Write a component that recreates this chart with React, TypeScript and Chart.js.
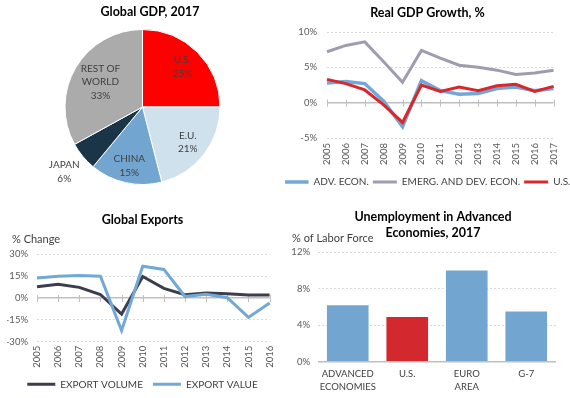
import React, { useEffect, useRef } from 'react';
import { Chart, registerables } from 'chart.js';
Chart.register(...registerables);

const FONT = 'Lato, "Open Sans", sans-serif';
Chart.defaults.font.family = FONT;

// ---------- Data ----------
const gdpShareLabels = ['U.S.', 'E.U.', 'CHINA', 'JAPAN', 'REST OF\nWORLD'];
const gdpShareValues = [25, 21, 15, 6, 33];

const growthYears = ['2005', '2006', '2007', '2008', '2009', '2010', '2011', '2012', '2013', '2014', '2015', '2016', '2017'];
const advEcon = [2.8, 3.0, 2.7, 0.2, -3.4, 3.1, 1.7, 1.2, 1.3, 2.0, 2.2, 1.7, 2.0];
const emergEcon = [7.2, 8.1, 8.6, 5.8, 2.9, 7.4, 6.3, 5.3, 5.0, 4.6, 4.0, 4.2, 4.6];
const usGrowth = [3.3, 2.7, 1.8, -0.3, -2.8, 2.5, 1.6, 2.2, 1.7, 2.4, 2.6, 1.6, 2.3];
const growthTicks = [-5, 0, 5, 10];

const exportYears = ['2005', '2006', '2007', '2008', '2009', '2010', '2011', '2012', '2013', '2014', '2015', '2016'];
const exportVolume = [7.8, 9.5, 7.3, 2.4, -11.0, 14.8, 6.6, 2.3, 3.4, 3.0, 2.1, 2.0];
const exportValue = [13.7, 14.9, 15.5, 15.0, -22.3, 21.8, 19.6, 1.0, 2.6, 0.2, -13.3, -3.4];
const exportTicks = [-30, -15, 0, 15, 30];

const unempCategories = [['ADVANCED', 'ECONOMIES'], 'U.S.', ['EURO', 'AREA'], 'G-7'];
const unempValues = [6.2, 4.9, 10.0, 5.5];
const unempTicks = [0, 4, 8, 12];

// ---------- Styles ----------
const RED = '#FF0000';
const LIGHTBLUE = '#D0E1EE';
const MIDBLUE = '#72A6D1';
const NAVY = '#1B3548';
const GREY = '#ABABAB';
const LINE_BLUE = '#72A8D5';
const LINE_GREY = '#9E9DAF';
const LINE_RED = '#DA272D';
const LINE_DARK = '#3C3D4F';
const BAR_RED = '#D2282E';
const TICK_COLOR = '#595959';
const TEXT_COLOR = '#404040';
const TICK_SIZE = 9.5;
const LEGEND_SIZE = 10;
const TITLE_FONT = { family: FONT, size: 12.5, weight: 'bold' as const };

const pieLabelPlugin = {
  id: 'pieLabels',
  afterDatasetsDraw(chart: any, _args: any, opts: any) {
    const meta = chart.getDatasetMeta(0);
    const ctx = chart.ctx;
    const labels = chart.data.labels as string[];
    const values = chart.data.datasets[0].data as number[];
    ctx.save();
    ctx.font = `${opts.size}px ${FONT}`;
    ctx.fillStyle = opts.color;
    ctx.textAlign = 'center';
    ctx.textBaseline = 'middle';
    meta.data.forEach((arc: any, i: number) => {
      const p = arc.getProps(['x', 'y', 'startAngle', 'endAngle', 'outerRadius'], true);
      const mid = (p.startAngle + p.endAngle) / 2;
      const r = p.outerRadius * opts.dist[i];
      const cx = p.x + Math.cos(mid) * r;
      const cy = p.y + Math.sin(mid) * r;
      const lines = [...labels[i].split('\n'), values[i] + '%'];
      const lh = opts.lineHeight;
      const y0 = cy - ((lines.length - 1) * lh) / 2;
      lines.forEach((t, k) => ctx.fillText(t, cx, y0 + k * lh));
    });
    ctx.restore();
  },
};

const zeroTickPlugin = {
  id: 'zeroTicks',
  beforeDatasetsDraw(chart: any, _args: any, opts: any) {
    const xs = chart.scales.x;
    const ys = chart.scales.y;
    const y0 = ys.getPixelForValue(0);
    const ctx = chart.ctx;
    ctx.save();
    ctx.strokeStyle = opts.color;
    ctx.lineWidth = 1;
    ctx.beginPath();
    for (let i = 0; i < xs.ticks.length; i++) {
      const px = Math.round(xs.getPixelForTick(i)) + 0.5;
      ctx.moveTo(px, y0 - 3);
      ctx.lineTo(px, y0 + 4);
    }
    ctx.stroke();
    ctx.restore();
  },
};

const unitLabelPlugin = {
  id: 'unitLabel',
  afterDraw(chart: any, _args: any, opts: any) {
    const ctx = chart.ctx;
    ctx.save();
    ctx.font = `${opts.size}px ${FONT}`;
    ctx.fillStyle = opts.color;
    ctx.textAlign = 'left';
    ctx.textBaseline = 'middle';
    ctx.fillText(opts.text, opts.x, opts.y);
    ctx.restore();
  },
};

const pct = (v: any) => v + '%';

const yGrid = {
  color: (c: any) => (c.tick && c.tick.value === 0 ? '#BFBFBF' : '#D9D9D9'),
  lineWidth: (c: any) => (c.tick && c.tick.value === 0 ? 1.5 : 1),
  drawTicks: false,
};
const yBorder = {
  display: false,
  dash: (c: any) => (c.tick && c.tick.value === 0 ? [] : [2, 2]),
};

const spacerAxis = (w: number) => ({
  type: 'linear',
  position: 'right',
  display: true,
  grid: { display: false, drawTicks: false },
  border: { display: false },
  ticks: { display: false },
  afterFit: (s: any) => {
    s.width = w;
  },
});

const base = {
  responsive: false,
  maintainAspectRatio: false,
  animation: false,
  devicePixelRatio: 1,
  events: [],
};

function pieConfig(): any {
  return {
    type: 'pie',
    data: {
      labels: gdpShareLabels,
      datasets: [
        {
          data: gdpShareValues,
          backgroundColor: [RED, LIGHTBLUE, MIDBLUE, NAVY, GREY],
          borderColor: '#FFFFFF',
          borderWidth: 1,
          hoverOffset: 0,
          offset: 0,
        },
      ],
    },
    options: {
      ...base,
      layout: { padding: { left: 0, right: -15, top: 0, bottom: 15 } },
      scales: {
        sp: spacerAxis(12),
      },
      plugins: {
        legend: { display: false },
        tooltip: { enabled: false },
        title: {
          display: true,
          text: 'Global GDP, 2017',
          color: '#000000',
          font: TITLE_FONT,
          padding: { top: 4.5, bottom: 9.5 },
        },
        pieLabels: { size: 10, color: TEXT_COLOR, lineHeight: 13.5, dist: [0.73, 0.74, 0.78, 1.31, 0.63] },
      },
    },
    plugins: [pieLabelPlugin],
  };
}

function lineDs(label: string, data: number[], color: string, order: number, width = 3) {
  return {
    label,
    data,
    borderColor: color,
    backgroundColor: color,
    borderWidth: width,
    pointRadius: 0,
    tension: 0,
    order,
  };
}

function xYears(padding: number, height: number) {
  return {
    type: 'category',
    offset: false,
    grid: { display: false, drawTicks: false },
    border: { display: false },
    ticks: {
      color: TICK_COLOR,
      font: { family: FONT, size: TICK_SIZE },
      minRotation: 90,
      maxRotation: 90,
      autoSkip: false,
      padding,
    },
    afterFit: (s: any) => {
      s.height = height;
    },
  };
}

function yPct(tickVals: number[], width: number, padding: number) {
  return {
    min: tickVals[0],
    max: tickVals[tickVals.length - 1],
    ticks: {
      stepSize: tickVals[1] - tickVals[0],
      callback: pct,
      color: TICK_COLOR,
      font: { family: FONT, size: TICK_SIZE },
      padding,
    },
    grid: yGrid,
    border: yBorder,
    afterFit: (s: any) => {
      s.width = width;
    },
  };
}

function lineLegend(lineW: number, padding: number) {
  return {
    position: 'bottom',
    labels: {
      usePointStyle: true,
      pointStyle: 'line',
      pointStyleWidth: lineW,
      padding,
      color: TEXT_COLOR,
      font: { family: FONT, size: LEGEND_SIZE },
      sort: (a: any, b: any) => a.datasetIndex - b.datasetIndex,
    },
  };
}

function growthConfig(): any {
  return {
    type: 'line',
    data: {
      labels: growthYears,
      datasets: [
        lineDs('ADV. ECON.', advEcon, LINE_BLUE, 2, 3.5),
        lineDs('EMERG. AND DEV. ECON.', emergEcon, LINE_GREY, 1),
        lineDs('U.S.', usGrowth, LINE_RED, 0),
      ],
    },
    options: {
      ...base,
      layout: { padding: { left: -10, right: -10, top: 0, bottom: 3 } },
      scales: {
        x: xYears(5, 35),
        y: yPct(growthTicks, 52, 10),
        r: spacerAxis(25),
      },
      plugins: {
        tooltip: { enabled: false },
        title: {
          display: true,
          text: 'Real GDP Growth, %',
          color: '#000000',
          font: TITLE_FONT,
          padding: { top: 5.5, bottom: 11.5 },
        },
        legend: lineLegend(24, 4),
        zeroTicks: { color: '#BFBFBF' },
      },
    },
    plugins: [zeroTickPlugin],
  };
}

function exportsConfig(): any {
  return {
    type: 'line',
    data: {
      labels: exportYears,
      datasets: [
        lineDs('EXPORT VOLUME', exportVolume, LINE_DARK, 1),
        lineDs('EXPORT VALUE', exportValue, LINE_BLUE, 0),
      ],
    },
    options: {
      ...base,
      layout: { padding: { left: 7, right: 7, top: 0, bottom: 0.7 } },
      scales: {
        x: xYears(4, 27.6),
        y: yPct(exportTicks, 30, 9),
        r: spacerAxis(5),
      },
      plugins: {
        tooltip: { enabled: false },
        title: {
          display: true,
          text: 'Global Exports',
          color: '#000000',
          font: TITLE_FONT,
          padding: { top: 12.5, bottom: 26.8 },
        },
        legend: lineLegend(28, 10),
        zeroTicks: { color: '#BFBFBF' },
        unitLabel: { text: '% Change', x: 12, y: 39, size: 11, color: TEXT_COLOR },
      },
    },
    plugins: [zeroTickPlugin, unitLabelPlugin],
  };
}

function unempConfig(): any {
  return {
    type: 'bar',
    data: {
      labels: unempCategories,
      datasets: [
        {
          label: 'Unemployment',
          data: unempValues,
          backgroundColor: [MIDBLUE, BAR_RED, MIDBLUE, MIDBLUE],
          borderWidth: 0,
          barPercentage: 0.7,
          categoryPercentage: 1.0,
        },
      ],
    },
    options: {
      ...base,
      layout: { padding: { left: 5, right: -6, top: 0, bottom: 0 } },
      scales: {
        x: {
          type: 'category',
          grid: { display: false, drawTicks: false },
          border: { display: false },
          ticks: {
            color: TEXT_COLOR,
            font: { family: FONT, size: TICK_SIZE, lineHeight: 1.35 },
            maxRotation: 0,
            minRotation: 0,
            autoSkip: false,
            padding: 6,
          },
          afterFit: (s: any) => {
            s.height = 38.3;
          },
        },
        y: yPct(unempTicks, 28, 8),
        r: spacerAxis(20),
      },
      plugins: {
        tooltip: { enabled: false },
        legend: { display: false },
        title: {
          display: true,
          text: ['Unemployment in Advanced', 'Economies, 2017'],
          color: '#000000',
          font: { ...TITLE_FONT, lineHeight: 1.28 },
          padding: { top: 9, bottom: 11.2 },
        },
        unitLabel: { text: '% of Labor Force', x: 7, y: 38, size: 11, color: TEXT_COLOR },
      },
    },
    plugins: [unitLabelPlugin],
  };
}

function Panel({ make, left, top, width, height }: { make: () => any; left: number; top: number; width: number; height: number }) {
  const ref = useRef<HTMLCanvasElement | null>(null);
  useEffect(() => {
    if (!ref.current) return;
    const chart = new Chart(ref.current, make());
    return () => chart.destroy();
  }, []);
  return (
    <div style={{ position: 'absolute', left, top, width, height }}>
      <canvas ref={ref} width={width} height={height} style={{ width, height, display: 'block' }} />
    </div>
  );
}

export default function App() {
  return (
    <div style={{ position: 'fixed', left: 0, top: 0, width: 570, height: 398, background: '#FFFFFF', overflow: 'hidden' }}>
      <Panel make={pieConfig} left={0} top={0} width={285} height={200} />
      <Panel make={growthConfig} left={285} top={0} width={285} height={200} />
      <Panel make={exportsConfig} left={0} top={200} width={285} height={200} />
      <Panel make={unempConfig} left={285} top={200} width={285} height={200} />
    </div>
  );
}
